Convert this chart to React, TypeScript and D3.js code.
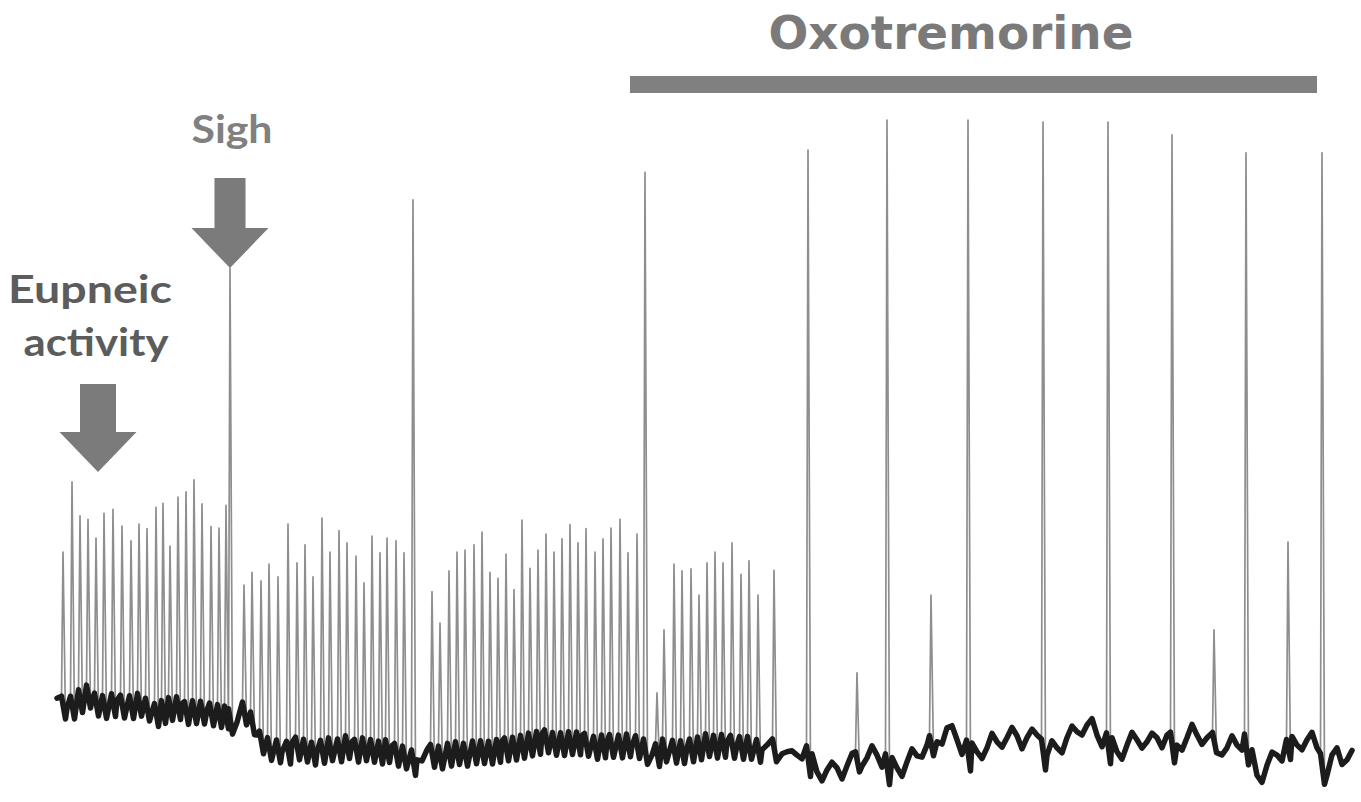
import React from "react";
import * as d3 from "d3";

// eupneic bursts, control period (s, a.u.)
const ctrlBurstTimes = [
  0.6, 1.5, 2.3, 3.1, 3.9, 4.7, 5.6, 6.5, 7.4, 8.2, 9.0, 9.9, 10.6, 11.3, 12.1, 12.9, 13.7, 14.5, 15.4, 16.2, 16.9,
  18.7, 19.5, 20.4, 21.2, 22.1, 23.1, 24.0, 24.8, 25.6, 26.5, 27.3, 28.2, 29.0, 29.9, 30.7, 31.5, 32.3, 33.0, 33.9, 34.7,
  37.5, 38.3, 39.2, 40.0, 40.8, 41.7, 42.5, 43.3, 44.1, 44.9, 45.7, 46.5, 47.3, 48.1, 48.9, 49.7, 50.5, 51.3, 52.1, 52.9,
  53.8, 54.6, 55.4, 56.3, 57.1, 58.0,
  60.0, 60.7, 61.7, 62.5, 63.4, 64.2, 65.0, 65.8, 66.6, 67.5, 68.4, 69.2, 70.1, 71.7,
];
const ctrlBurstAmps = [
  35.5, 46.0, 40.9, 40.4, 37.6, 41.3, 41.9, 39.4, 37.2, 39.7, 39.0, 42.2, 42.8, 36.4, 43.7, 44.5, 46.3, 42.7, 39.3, 39.1, 42.5,
  30.6, 32.5, 31.2, 33.7, 31.8, 39.7, 33.9, 36.6, 31.8, 40.6, 35.5, 38.7, 36.9, 34.9, 30.9, 37.9, 35.4, 37.6, 37.2, 35.4,
  29.6, 24.9, 32.7, 35.5, 35.8, 36.6, 38.5, 32.5, 31.6, 35.2, 29.9, 40.3, 33.1, 35.8, 38.2, 35.5, 37.5, 39.6, 36.9, 39.0,
  35.5, 37.5, 39.1, 40.4, 35.4, 38.2,
  14.5, 23.9, 33.7, 32.7, 33.0, 29.1, 33.9, 35.5, 33.9, 36.9, 32.2, 34.2, 29.1, 32.8,
];

// sighs during control
const sighTimes = [17.3, 35.6, 58.8];
const sighAmps = [77.9, 88.1, 92.2];

// bursts under oxotremorine
const oxoBurstTimes = [75.1, 80.0, 83.0, 87.4, 91.1, 98.6, 105.1, 111.5, 115.7, 118.9, 123.1, 126.5];
const oxoBurstAmps = [95.5, 17.5, 100, 29.1, 100, 99.7, 99.7, 97.8, 23.9, 95.1, 37.0, 95.1];

// baseline level, one sample per second from t = 0
const baseline = [
  13.7, 12.2, 13.4, 14.6, 13.1, 12.8, 13.4, 12.5, 13.4, 12.5,
  11.6, 12.5, 12.8, 11.9, 12.2, 11.9, 11.6, 11.3, 10.1, 12.7,
  8.2, 6.7, 6.3, 6.0, 6.7, 6.3, 5.7, 6.7, 6.3, 6.9,
  6.3, 6.7, 6.0, 6.3, 5.7, 5.2, 4.5, 6.0, 5.2, 5.7,
  6.0, 5.7, 6.3, 6.0, 6.3, 6.6, 6.7, 7.2, 7.5, 7.8,
  7.2, 7.5, 7.5, 7.2, 6.7, 7.2, 6.9, 7.2, 6.9, 6.3,
  5.7, 6.7, 6.0, 6.3, 6.6, 7.2, 6.9, 7.2, 6.7, 6.9,
  6.3, 6.7, 6.3, 5.7, 5.2, 5.7, 2.7, 3.0, 3.3, 3.6,
  4.5, 4.8, 5.2, 4.2, 3.3, 4.2, 5.1, 6.7, 7.2, 9.3,
  7.5, 6.3, 5.7, 6.3, 7.2, 7.8, 8.1, 7.8, 8.2, 5.2,
  6.3, 7.8, 8.7, 9.7, 8.2, 7.5, 5.7, 6.7, 7.5, 7.2,
  7.8, 8.2, 6.7, 7.8, 8.2, 7.8, 7.2, 6.3, 6.7, 7.2,
  2.2, 3.7, 5.2, 6.3, 6.7, 7.5, 6.3, 2.2, 6.3, 4.5,
];

// baseline noise, offset at each half second (t = k + 0.5)
const halfNoise = [
  0.5, -0.8, 0.6, -0.5, 0.8, -0.6, 0.4, -0.9, 0.7, -0.4,
  0.6, -0.7, 0.5, -0.6, 0.9, -0.5, 0.4, -0.8, 0.6, -0.7,
  -0.6, 0.8, -0.5, 0.7, -0.9, 0.4, -0.6, 0.8, -0.5, 0.6,
  -0.7, 0.5, -0.8, 0.6, -0.4, 0.7, -0.9, 0.5, -0.6, 0.8,
  0.5, -0.7, 0.6, -0.5, 0.8, -0.6, 0.4, -0.8, 0.7, -0.5,
  0.6, -0.4, 0.8, -0.7, 0.5, -0.6, 0.9, -0.5, 0.6, -0.8,
  -0.5, 0.7, -0.6, 0.8, -0.4, 0.6, -0.9, 0.5, -0.7, 0.6,
  -0.5, 0.8, -0.6, 0.4, -0.8, 1.2, -1.5, 1.0, -1.8, 1.4,
  -1.1, 1.6, -1.3, 1.1, -1.7, 1.5, -1.0, 1.8, -1.4, 1.2,
  -1.6, 1.0, -1.3, 1.7, -1.1, 1.4, -1.8, 1.1, -1.2, 1.6,
  -1.5, 1.3, -1.0, 1.7, -1.4, 1.2, -1.6, 1.5, -1.1, 1.0,
  -1.7, 1.4, -1.3, 1.8, -1.2, 1.1, -1.5, 1.6, -1.0, 1.3,
  -1.8, 1.2, -1.4, 1.5, -1.1, 1.7, -1.3, 1.0, -1.6, 1.4,
];

const drugStart = 57.3;
const drugEnd = 126.0;

const W = 1361;
const H = 802;

export default function App() {
  const x = d3.scaleLinear().domain([0, 130]).range([57, 1357]);
  const y = d3.scaleLinear().domain([0, 100]).range([790, 120]);

  const baseTimes = baseline.map((_, i) => i);
  const baseAt = d3.scaleLinear().domain(baseTimes).range(baseline).clamp(true);

  type Spike = { t: number; a: number; dip: number };
  const spikes: Spike[] = [
    ...ctrlBurstTimes.map((t, i) => ({ t, a: ctrlBurstAmps[i], dip: 2.2 })),
    ...sighTimes.map((t, i) => ({ t, a: sighAmps[i], dip: 2.6 })),
    ...oxoBurstTimes.map((t, i) => ({ t, a: oxoBurstAmps[i], dip: oxoBurstAmps[i] > 60 ? 3.4 : 1.8 })),
  ].sort((p, q) => p.t - q.t);

  // baseline samples (whole and half seconds), skipping those that sit on a burst
  const samples = [
    ...baseTimes.map((t) => ({ t, a: baseline[t] })),
    ...halfNoise.map((n, k) => ({ t: k + 0.5, a: baseAt(k + 0.5) + n })),
  ]
    .filter((p) => p.t <= 129.5 && !spikes.some((s) => Math.abs(s.t - p.t) < 0.35))
    .map((p) => ({ ...p, kind: "b" as const }));

  const trace: [number, number][] = [];
  const band: [number, number][] = [];
  const events = [...samples, ...spikes.map((s) => ({ ...s, kind: "s" as const }))].sort((p, q) => p.t - q.t);
  events.forEach((e) => {
    if (e.kind === "b") {
      const p: [number, number] = [e.t, e.a];
      trace.push(p);
      band.push(p);
    } else {
      const s = e as Spike & { kind: "s" };
      const b = baseAt(s.t);
      const foot: [number, number] = [s.t - 0.15, b + 1.2];
      const dip: [number, number] = [s.t + 0.25, b - s.dip];
      trace.push(foot, [s.t, s.a], dip);
      band.push(foot, dip);
    }
  });

  const line = d3
    .line<[number, number]>()
    .x((d) => x(d[0]))
    .y((d) => y(d[1]));

  const arrow = (cx: number, top: number, tip: number, shaftW: number, headW: number, headTop: number) =>
    [
      [cx - shaftW / 2, top],
      [cx + shaftW / 2, top],
      [cx + shaftW / 2, headTop],
      [cx + headW / 2, headTop],
      [cx, tip],
      [cx - headW / 2, headTop],
      [cx - shaftW / 2, headTop],
    ]
      .map((p) => p.join(","))
      .join(" ");

  const sighX = x(sighTimes[0]);
  const sighTip = y(sighAmps[0]);
  const eupX = x(4.1);

  return (
    <svg width={W} height={H} style={{ position: "absolute", left: 0, top: 0, background: "#fff" }}>
      {/* drug bar */}
      <rect x={x(drugStart)} y={76} width={x(drugEnd) - x(drugStart)} height={17} fill="#808080" />
      <text
        x={951}
        y={49}
        textAnchor="middle"
        fontFamily="DejaVu Sans, Verdana, sans-serif"
        fontWeight="bold"
        fontSize={46}
        fill="#7a7a7a"
        textLength={365}
        lengthAdjust="spacingAndGlyphs"
      >
        Oxotremorine
      </text>

      {/* trace */}
      <path d={line(trace) ?? ""} fill="none" stroke="#8e8e8e" strokeWidth={1.7} strokeLinejoin="round" />
      <path d={line(band) ?? ""} fill="none" stroke="#1c1c1c" strokeWidth={5.5} strokeLinejoin="round" strokeLinecap="round" />

      {/* sigh label */}
      <text
        x={232}
        y={143}
        textAnchor="middle"
        fontFamily="Lato, Open Sans, sans-serif"
        fontWeight="bold"
        fontSize={39}
        fill="#808080"
        textLength={81}
        lengthAdjust="spacingAndGlyphs"
      >
        Sigh
      </text>
      <polygon points={arrow(sighX, 178, sighTip, 31, 77, 228)} fill="#7b7b7b" />

      {/* eupneic label */}
      <text
        x={90}
        y={303}
        textAnchor="middle"
        fontFamily="Lato, Open Sans, sans-serif"
        fontWeight="bold"
        fontSize={39}
        fill="#5c5c5c"
        textLength={164}
        lengthAdjust="spacingAndGlyphs"
      >
        Eupneic
      </text>
      <text
        x={96}
        y={356}
        textAnchor="middle"
        fontFamily="Lato, Open Sans, sans-serif"
        fontWeight="bold"
        fontSize={39}
        fill="#5c5c5c"
        textLength={145}
        lengthAdjust="spacingAndGlyphs"
      >
        activity
      </text>
      <polygon points={arrow(eupX, 384, 472, 36, 77, 432)} fill="#7b7b7b" />
    </svg>
  );
}
